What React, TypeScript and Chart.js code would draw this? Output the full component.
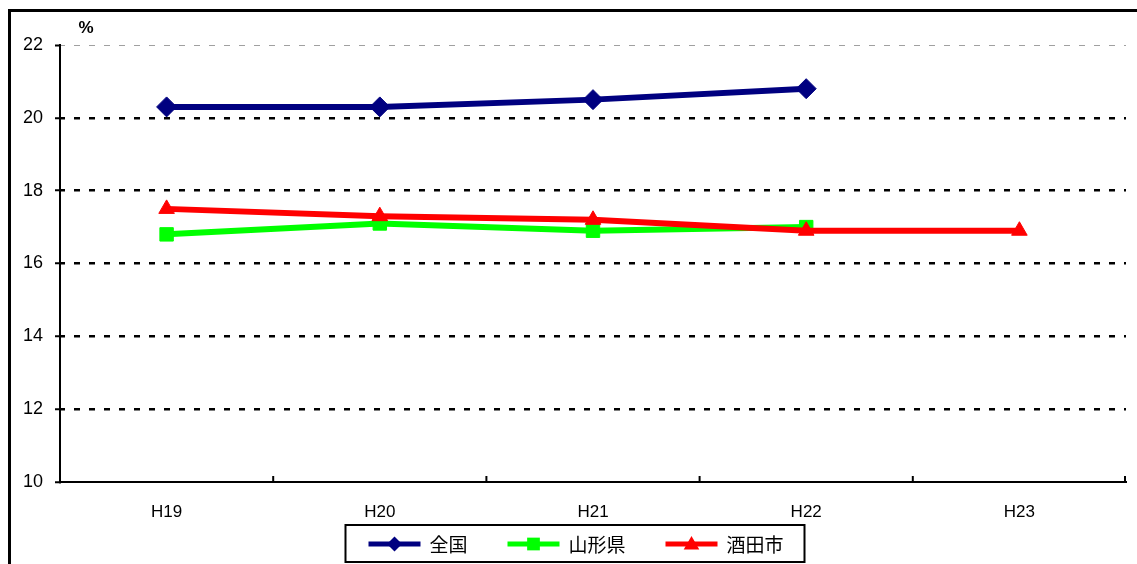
import React, { useEffect, useRef } from "react";
import { Chart, registerables } from "chart.js";

Chart.register(...registerables);

const categories = ["H19", "H20", "H21", "H22", "H23"];
const zenkoku = [20.3, 20.3, 20.5, 20.8, null];
const yamagata = [16.8, 17.1, 16.9, 17.0, null];
const sakata = [17.5, 17.3, 17.2, 16.9, 16.9];
const seriesNames = ["全国", "山形県", "酒田市"];
const yTicks = [10, 12, 14, 16, 18, 20, 22];
const unitLabel = "%";

const NUM_FONT = "'Liberation Sans', Arial, sans-serif";
const JP_FONT = "'Noto Sans CJK JP', 'Noto Sans', sans-serif";

function drawMarker(ctx: CanvasRenderingContext2D, style: string, x: number, y: number, r: number, color: string) {
  ctx.save();
  ctx.fillStyle = color;
  ctx.beginPath();
  if (style === "rectRot") {
    ctx.moveTo(x, y - r);
    ctx.lineTo(x + r, y);
    ctx.lineTo(x, y + r);
    ctx.lineTo(x - r, y);
  } else if (style === "rect") {
    const s = r * Math.SQRT1_2;
    ctx.rect(x - s, y - s, 2 * s, 2 * s);
  } else {
    ctx.moveTo(x, y - r);
    ctx.lineTo(x + r * Math.sin((2 * Math.PI) / 3), y - r * Math.cos((2 * Math.PI) / 3));
    ctx.lineTo(x + r * Math.sin((4 * Math.PI) / 3), y - r * Math.cos((4 * Math.PI) / 3));
  }
  ctx.closePath();
  ctx.fill();
  ctx.restore();
}

const extrasPlugin = {
  id: "extras",
  afterDraw(chart: any) {
    const ctx: CanvasRenderingContext2D = chart.ctx;
    const x = chart.scales.x;
    const area = chart.chartArea;
    // inward category-boundary ticks on the x axis
    ctx.save();
    ctx.strokeStyle = "#000";
    ctx.lineWidth = 2;
    const n = chart.data.labels.length;
    for (let i = 0; i < n; i++) {
      const p = i < n - 1 ? (x.getPixelForTick(i) + x.getPixelForTick(i + 1)) / 2 : area.right - 1;
      ctx.beginPath();
      ctx.moveTo(p, area.bottom);
      ctx.lineTo(p, area.bottom - 6);
      ctx.stroke();
    }
    ctx.restore();

    // unit label
    ctx.save();
    ctx.fillStyle = "#000";
    ctx.font = `bold 17px ${NUM_FONT}`;
    ctx.textAlign = "center";
    ctx.textBaseline = "middle";
    ctx.fillText(unitLabel, area.left + 26, area.top - 17);
    ctx.restore();

    // boxed legend
    const ds = chart.data.datasets;
    ctx.save();
    ctx.font = `19px ${JP_FONT}`;
    const lineW = 52;
    const textGap = 9;
    const itemGap = 40;
    const widths = ds.map((d: any) => ctx.measureText(d.label).width);
    let total = 0;
    widths.forEach((w: number, i: number) => {
      total += lineW + textGap + w + (i < widths.length - 1 ? itemGap : 0);
    });
    const padL = 23;
    const padR = 21;
    const boxW = total + padL + padR;
    const centerX = 575;
    const boxLeft = centerX - boxW / 2;
    const boxTop = 525;
    const boxH = 37;
    const cy = boxTop + boxH / 2 + 0.5;
    ctx.fillStyle = "#fff";
    ctx.fillRect(boxLeft, boxTop, boxW, boxH);
    ctx.strokeStyle = "#000";
    ctx.lineWidth = 2;
    ctx.strokeRect(boxLeft, boxTop, boxW, boxH);
    let cx = boxLeft + padL;
    const legendR = [7.5, 9, 9];
    ds.forEach((d: any, i: number) => {
      ctx.strokeStyle = d.borderColor;
      ctx.lineWidth = 5;
      ctx.beginPath();
      ctx.moveTo(cx, cy);
      ctx.lineTo(cx + lineW, cy);
      ctx.stroke();
      drawMarker(ctx, d.pointStyle, cx + lineW / 2, d.pointStyle === "triangle" ? cy + 1 : cy, legendR[i], d.pointBackgroundColor);
      ctx.fillStyle = "#000";
      ctx.textAlign = "left";
      ctx.textBaseline = "middle";
      ctx.fillText(d.label, cx + lineW + textGap, cy + 1);
      cx += lineW + textGap + widths[i] + itemGap;
    });
    ctx.restore();
  },
};

export default function App() {
  const canvasRef = useRef<HTMLCanvasElement | null>(null);

  useEffect(() => {
    if (!canvasRef.current) return;
    const chart = new Chart(canvasRef.current, {
      type: "line",
      data: {
        labels: categories,
        datasets: [
          {
            label: seriesNames[0],
            data: zenkoku,
            borderColor: "#000080",
            backgroundColor: "#000080",
            pointBackgroundColor: "#000080",
            pointBorderColor: "#000080",
            pointStyle: "rectRot",
            pointRadius: 10,
            pointBorderWidth: 1,
            borderWidth: 6,
            tension: 0,
            order: 2,
          },
          {
            label: seriesNames[1],
            data: yamagata,
            borderColor: "#00FF00",
            backgroundColor: "#00FF00",
            pointBackgroundColor: "#00FF00",
            pointBorderColor: "#00FF00",
            pointStyle: "rect",
            pointRadius: 9.5,
            pointBorderWidth: 1,
            borderWidth: 6,
            tension: 0,
            order: 1,
          },
          {
            label: seriesNames[2],
            data: sakata,
            borderColor: "#FF0000",
            backgroundColor: "#FF0000",
            pointBackgroundColor: "#FF0000",
            pointBorderColor: "#FF0000",
            pointStyle: "triangle",
            pointRadius: 9,
            pointBorderWidth: 1,
            borderWidth: 6,
            tension: 0,
            order: 0,
          },
        ] as any,
      },
      options: {
        responsive: false,
        maintainAspectRatio: false,
        animation: false,
        layout: { padding: { left: 0, right: 10, top: 45, bottom: 0 } },
        plugins: {
          legend: { display: false },
          tooltip: { enabled: false },
        },
        scales: {
          x: {
            type: "category",
            offset: true,
            grid: { display: false, offset: true },
            border: { display: true, color: "#000", width: 2 },
            ticks: {
              color: "#000",
              font: { size: 17, family: NUM_FONT },
              padding: 12,
            },
            afterFit: (scale: any) => {
              scale.height = 82;
            },
          },
          y: {
            min: yTicks[0],
            max: yTicks[yTicks.length - 1],
            afterBuildTicks: (scale: any) => {
              scale.ticks = yTicks.map((v) => ({ value: v }));
            },
            grid: {
              color: (c: any) => (c.tick && c.tick.value === 22 ? "#a0a0a0" : c.tick && c.tick.value === 10 ? "transparent" : "#000"),
              lineWidth: (c: any) => (c.tick && c.tick.value === 22 ? 1 : 2.5),
              drawTicks: true,
              tickLength: 5,
              tickColor: "#000",
              tickWidth: 2,
            },
            border: { display: true, color: "#000", width: 2, dash: [6, 9], dashOffset: 2 },
            ticks: {
              color: "#000",
              font: { size: 18, family: NUM_FONT },
              padding: 12,
            },
            afterFit: (scale: any) => {
              scale.width = 60;
            },
          },
        },
      } as any,
      plugins: [extrasPlugin],
    });
    return () => chart.destroy();
  }, []);

  return (
    <div style={{ position: "fixed", left: 0, top: 0, width: 1137, height: 564, overflow: "hidden", background: "#fff" }}>
      <div
        style={{
          position: "absolute",
          left: 8,
          top: 9,
          width: 1400,
          height: 800,
          borderLeft: "3px solid #000",
          borderTop: "3px solid #000",
          boxSizing: "border-box",
        }}
      />
      <canvas ref={canvasRef} width={1137} height={564} style={{ position: "absolute", left: 0, top: 0, width: 1137, height: 564 }} />
    </div>
  );
}
